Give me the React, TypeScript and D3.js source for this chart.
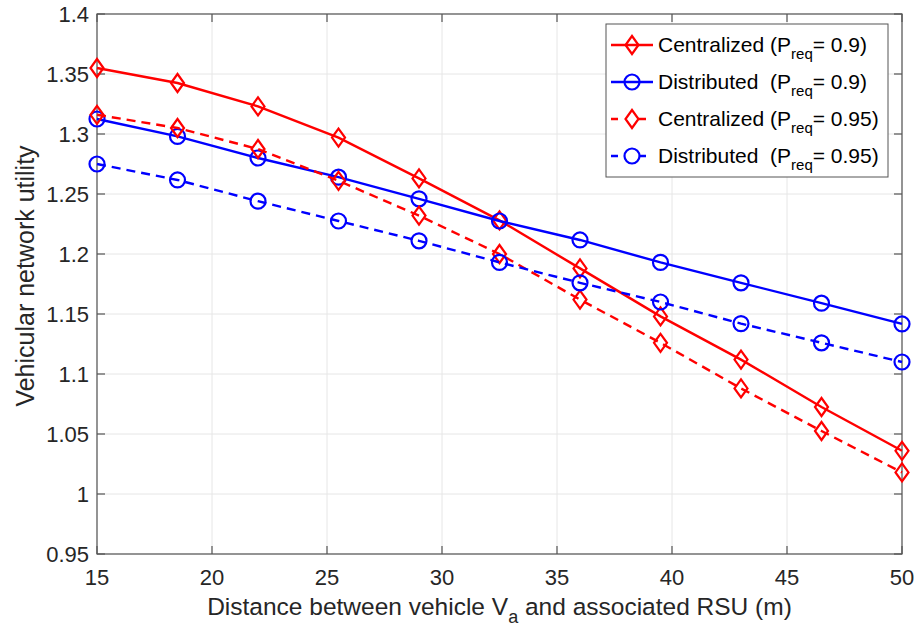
import React, { useEffect, useRef } from 'react';
import * as d3 from 'd3';

const distances = [15, 18.5, 22, 25.5, 29, 32.5, 36, 39.5, 43, 46.5, 50];
const centralized09 = [1.355, 1.3425, 1.323, 1.297, 1.263, 1.228, 1.188, 1.148, 1.112, 1.0725, 1.036];
const distributed09 = [1.3125, 1.298, 1.28, 1.264, 1.246, 1.2275, 1.2117, 1.193, 1.176, 1.159, 1.1417];
const centralized095 = [1.316, 1.305, 1.2875, 1.261, 1.232, 1.2, 1.162, 1.126, 1.088, 1.0525, 1.018];
const distributed095 = [1.275, 1.2617, 1.244, 1.2275, 1.211, 1.193, 1.176, 1.16, 1.142, 1.126, 1.11];
const xTicks = [15, 20, 25, 30, 35, 40, 45, 50];
const yTicks = [0.95, 1, 1.05, 1.1, 1.15, 1.2, 1.25, 1.3, 1.35, 1.4];

const series = [
  { name: 'Centralized', p: '0.9', values: centralized09, color: '#ff0000', dashed: false, marker: 'diamond', gap: '' },
  { name: 'Distributed', p: '0.9', values: distributed09, color: '#0000ff', dashed: false, marker: 'circle', gap: '\u00a0' },
  { name: 'Centralized', p: '0.95', values: centralized095, color: '#ff0000', dashed: true, marker: 'diamond', gap: '' },
  { name: 'Distributed', p: '0.95', values: distributed095, color: '#0000ff', dashed: true, marker: 'circle', gap: '\u00a0' },
];

const App: React.FC = () => {
  const svgRef = useRef<SVGSVGElement | null>(null);

  useEffect(() => {
    if (!svgRef.current) return;
    const width = 921;
    const height = 634;
    const margin = { top: 14, right: 19, bottom: 80, left: 97 };
    const font = 'Liberation Sans, Arial, Helvetica, sans-serif';

    const root = d3.select(svgRef.current).attr('width', width).attr('height', height);
    root.selectAll('*').remove();
    root.append('rect').attr('width', width).attr('height', height).attr('fill', '#fff');

    const x = d3.scaleLinear().domain([15, 50]).range([margin.left, width - margin.right]);
    const y = d3.scaleLinear().domain([0.95, 1.4]).range([height - margin.bottom, margin.top]);
    const [x0, x1] = x.range();
    const [y0, y1] = y.range();

    // grid
    const grid = root.append('g').attr('stroke', '#e6e6e6').attr('stroke-width', 1);
    xTicks.forEach((t) => grid.append('line').attr('x1', x(t)).attr('x2', x(t)).attr('y1', y0).attr('y2', y1));
    yTicks.forEach((t) => grid.append('line').attr('x1', x0).attr('x2', x1).attr('y1', y(t)).attr('y2', y(t)));

    // axes (MATLAB box style, inward ticks)
    const axisColor = '#262626';
    const ax = root.append('g').attr('stroke', '#555').attr('stroke-width', 1.2);
    ax.append('rect').attr('x', x0).attr('y', y1).attr('width', x1 - x0).attr('height', y0 - y1).attr('fill', 'none');
    xTicks.forEach((t) => {
      ax.append('line').attr('x1', x(t)).attr('x2', x(t)).attr('y1', y0).attr('y2', y0 - 8);
      ax.append('line').attr('x1', x(t)).attr('x2', x(t)).attr('y1', y1).attr('y2', y1 + 8);
    });
    yTicks.forEach((t) => {
      ax.append('line').attr('x1', x0).attr('x2', x0 + 8).attr('y1', y(t)).attr('y2', y(t));
      ax.append('line').attr('x1', x1).attr('x2', x1 - 8).attr('y1', y(t)).attr('y2', y(t));
    });

    root
      .append('g')
      .selectAll('text')
      .data(xTicks)
      .enter()
      .append('text')
      .attr('x', (d) => x(d))
      .attr('y', y0 + 31)
      .attr('text-anchor', 'middle')
      .attr('font-family', font)
      .attr('font-size', 22)
      .attr('fill', axisColor)
      .text((d) => String(d));

    root
      .append('g')
      .selectAll('text')
      .data(yTicks)
      .enter()
      .append('text')
      .attr('x', x0 - 8)
      .attr('y', (d) => y(d) + 8)
      .attr('text-anchor', 'end')
      .attr('font-family', font)
      .attr('font-size', 22)
      .attr('fill', axisColor)
      .text((d) => String(d));

    // axis labels
    const xl = root
      .append('text')
      .attr('x', (x0 + x1) / 2)
      .attr('y', 615)
      .attr('text-anchor', 'middle')
      .attr('font-family', font)
      .attr('font-size', 24.5)
      .attr('fill', axisColor);
    xl.append('tspan').text('Distance between vehicle V');
    xl.append('tspan').attr('font-size', 18).attr('dy', 8).text('a');
    xl.append('tspan').attr('dy', -8).text(' and associated RSU (m)');

    root
      .append('text')
      .attr('transform', `translate(34,276) rotate(-90)`)
      .attr('text-anchor', 'middle')
      .attr('font-family', font)
      .attr('font-size', 25)
      .attr('fill', axisColor)
      .text('Vehicular network utility');

    const drawMarker = (g: d3.Selection<SVGGElement, unknown, null, undefined>, kind: string, cx: number, cy: number, color: string) => {
      if (kind === 'diamond') {
        g.append('path')
          .attr('d', `M${cx},${cy - 9}L${cx + 6.5},${cy}L${cx},${cy + 9}L${cx - 6.5},${cy}Z`)
          .attr('fill', 'none')
          .attr('stroke', color)
          .attr('stroke-width', 2.2);
      } else {
        g.append('circle').attr('cx', cx).attr('cy', cy).attr('r', 7.5).attr('fill', 'none').attr('stroke', color).attr('stroke-width', 2.2);
      }
    };

    const line = d3
      .line<number>()
      .x((_, i) => x(distances[i]))
      .y((d) => y(d));

    const plot = root.append('g');
    series.forEach((s) => {
      plot
        .append('path')
        .attr('d', line(s.values) as string)
        .attr('fill', 'none')
        .attr('stroke', s.color)
        .attr('stroke-width', 2.4)
        .attr('stroke-dasharray', s.dashed ? '9,6' : null);
      const mg = plot.append('g');
      s.values.forEach((v, i) => drawMarker(mg, s.marker, x(distances[i]), y(v), s.color));
    });

    // legend
    const lg = root.append('g');
    lg.append('rect')
      .attr('x', 606)
      .attr('y', 24)
      .attr('width', 282)
      .attr('height', 153)
      .attr('fill', '#fff')
      .attr('stroke', '#555')
      .attr('stroke-width', 1);
    series.forEach((s, i) => {
      const ly = 45 + i * 37;
      lg.append('line')
        .attr('x1', 611)
        .attr('x2', 653)
        .attr('y1', ly)
        .attr('y2', ly)
        .attr('stroke', s.color)
        .attr('stroke-width', 2.4)
        .attr('stroke-dasharray', s.dashed ? '7,7' : null);
      lg.append('rect').attr('x', 625).attr('y', ly - 10).attr('width', 14).attr('height', 20).attr('fill', '#fff').attr('opacity', s.dashed ? 1 : 0);
      const mg = lg.append('g');
      drawMarker(mg, s.marker, 632, ly, s.color);
      const t = lg
        .append('text')
        .attr('x', 658)
        .attr('y', ly + 7)
        .attr('font-family', font)
        .attr('font-size', 21)
        .attr('fill', '#000');
      t.append('tspan').text(`${s.name} ${s.gap}(P`);
      t.append('tspan').attr('font-size', 15).attr('dy', 7).text('req');
      t.append('tspan').attr('dy', -7).text(`= ${s.p})`);
    });
  }, []);

  return <svg ref={svgRef} style={{ display: 'block', position: 'absolute', left: 0, top: 0 }}></svg>;
};

export default App;
